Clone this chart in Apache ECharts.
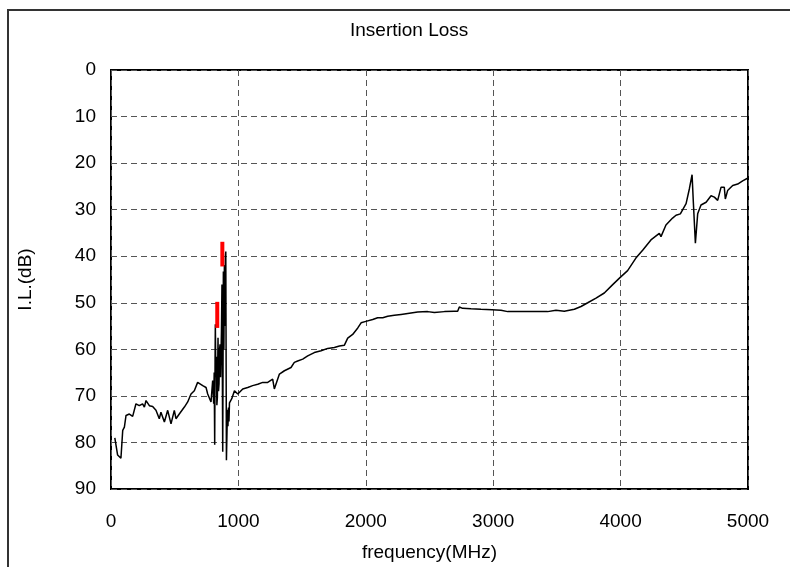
<!DOCTYPE html>
<html>
<head>
<meta charset="utf-8">
<script src="https://cdn.jsdelivr.net/npm/echarts@6/dist/echarts.min.js"></script>
<style>html,body{margin:0;padding:0;background:#fff}#c{width:790px;height:567px}</style>
</head>
<body>
<div id="c"></div>
<script>
var titleText = 'Insertion Loss';
var xName = 'frequency(MHz)';
var yName = 'I.L.(dB)';
var xTicks = [0, 1000, 2000, 3000, 4000, 5000];
var yTicks = [0, 10, 20, 30, 40, 50, 60, 70, 80, 90];

var freq = [30,39,52,78,92,105,118,144,170,196,222,248,262,275,301,327,353,379,392,419,445,471,497,510,536,576,602,628,654,680,720,746,759,785,798,806,810,814,817,819,823,827,831,835,840,844,848,852,856,860,863,867,871,877,882,886,890,894,898,901,906,911,915,918,922,926,930,935,948,969,995,1034,1073,1112,1152,1191,1230,1269,1282,1322,1361,1413,1439,1465,1505,1544,1596,1649,1701,1753,1793,1832,1858,1897,1937,1963,2001,2054,2093,2133,2172,2224,2277,2329,2407,2486,2538,2617,2695,2721,2734,2760,2826,2904,2991,3061,3114,3218,3323,3427,3493,3558,3637,3689,3742,3807,3872,3938,3995,4055,4120,4173,4238,4304,4317,4356,4408,4435,4469,4514,4540,4561,4571,4587,4605,4631,4671,4710,4736,4762,4775,4788,4814,4822,4840,4880,4919,4958,5000];
var loss = [79,79.2,82.7,83.4,77.4,76.7,74.2,73.9,74.4,71.7,72.1,71.7,72.4,71,72.1,72.3,73.1,74.9,73.5,75.6,73.1,76,73.1,74.9,73.9,72.4,71.3,69.6,68.9,67.1,67.8,68.2,69.6,71.3,66.7,71.7,65,80.5,62,54.6,66,61.6,72,70.3,57.5,69,67.4,60,58.9,66,61.7,56,46.1,82,43.3,60,41.9,55,40.1,39,83.8,77,73,76.5,72.5,75.5,71.5,71.7,70.6,68.9,69.6,68.5,68.2,67.8,67.5,67.1,67.1,66.4,68.5,65.3,64.6,63.9,62.8,62.5,62.1,61.4,60.7,60.3,59.8,59.6,59.3,59.1,57.6,56.8,55.4,54.3,54,53.6,53.2,53.2,52.9,52.7,52.5,52.3,52,51.9,52.1,51.9,51.8,51.8,50.9,51.2,51.3,51.4,51.5,51.6,51.9,51.9,51.9,51.9,51.6,51.8,51.4,50.8,50,49,47.9,46.1,44.6,43.1,40.4,38.7,36.5,35.1,35.8,33.3,31.8,31.2,30.9,28.7,25.5,22.5,28.4,37.2,30.9,29,28.4,27,27.3,28,28.4,25.2,25.2,27.7,25.9,24.8,24.5,23.8,23.2];

var mark1Freq = [834, 834];
var mark1Loss = [49.8, 55.4];
var mark2Freq = [874, 874];
var mark2Loss = [36.9, 42.2];

function pairs(xs, ys) { return xs.map(function (x, i) { return [x, ys[i]]; }); }

var chart = echarts.init(document.getElementById('c'), null, {renderer: 'canvas'});
var font = 'Arial, "Liberation Sans", sans-serif';
var gridLine = {show: true, lineStyle: {color: '#555', width: 1, type: [6, 4]}};
chart.setOption({
  animation: false,
  backgroundColor: '#fff',
  graphic: [
    {type: 'rect', shape: {x: 8, y: 10, width: 900, height: 700}, style: {fill: 'none', stroke: '#333', lineWidth: 2}, silent: true, z: -1},
    {type: 'text', left: 350, top: 21, style: {text: titleText, font: '19px ' + font, fill: '#000'}}
  ],
  grid: {left: 111, right: 42, top: 70, bottom: 77, show: true, borderColor: '#000', borderWidth: 2, backgroundColor: 'transparent'},
  xAxis: {
    type: 'value', min: 0, max: 5000, interval: 1000,
    name: xName, nameLocation: 'middle', nameGap: 54,
    nameTextStyle: {color: '#000', fontSize: 19, fontFamily: font},
    axisLine: {show: false}, axisTick: {show: false},
    axisLabel: {color: '#000', fontSize: 19, fontFamily: font, margin: 23,
      formatter: function (v) { return xTicks.indexOf(v) >= 0 ? String(v) : ''; }},
    splitLine: gridLine
  },
  yAxis: {
    type: 'value', min: 0, max: 90, interval: 10, inverse: true,
    name: yName, nameLocation: 'middle', nameGap: 76, nameRotate: 90,
    nameTextStyle: {color: '#000', fontSize: 19, fontFamily: font},
    axisLine: {show: false}, axisTick: {show: false},
    axisLabel: {color: '#000', fontSize: 19, fontFamily: font, margin: 15,
      formatter: function (v) { return yTicks.indexOf(v) >= 0 ? String(v) : ''; }},
    splitLine: gridLine
  },
  series: [
    {type: 'line', data: pairs(freq, loss), showSymbol: false, symbol: 'none', lineStyle: {color: '#000', width: 1.5}, z: 3},
    {type: 'line', data: pairs(mark1Freq, mark1Loss), symbol: 'none', lineStyle: {color: '#ff0000', width: 4}, z: 4},
    {type: 'line', data: pairs(mark2Freq, mark2Loss), symbol: 'none', lineStyle: {color: '#ff0000', width: 4}, z: 4}
  ]
});
</script>
</body>
</html>
